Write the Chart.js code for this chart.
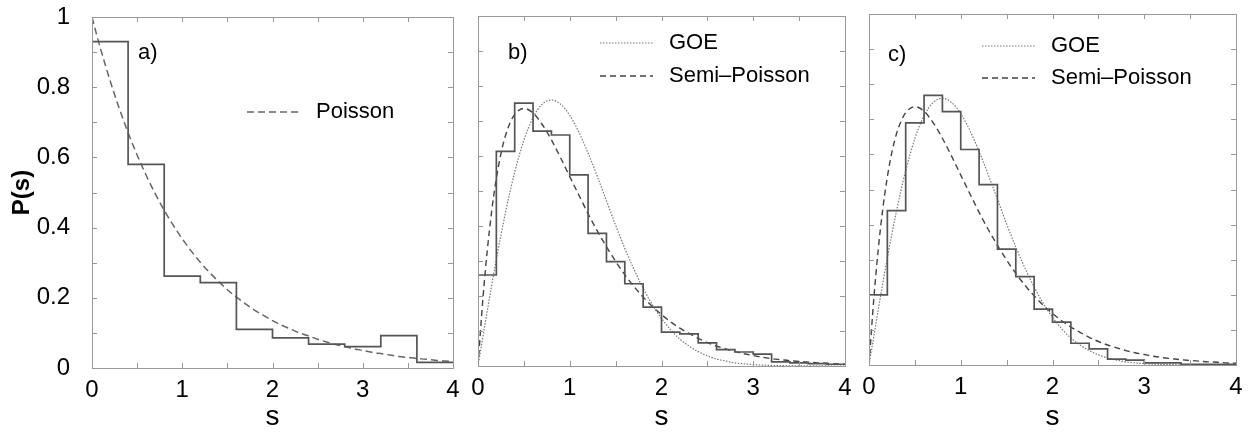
<!DOCTYPE html>
<html>
<head>
<meta charset="utf-8">
<script src="https://cdn.jsdelivr.net/npm/chart.js@4.4.1/dist/chart.umd.min.js"></script>
<style>
  html, body { margin: 0; padding: 0; background: #fff; }
  #wrap { position: relative; width: 1255px; height: 435px; }
  #wrap canvas { position: absolute; left: 0; top: 0; }
</style>
</head>
<body>
<div id="wrap">
  <canvas id="chartA" width="1255" height="435"></canvas>
  <canvas id="chartB" width="1255" height="435"></canvas>
  <canvas id="chartC" width="1255" height="435"></canvas>
</div>
<script>
// histogram bin edges
var edgesA = [0, 0.4, 0.8, 1.2, 1.6, 2.0, 2.4, 2.8, 3.2, 3.6, 4.0];
var edgesBC = [0, 0.2, 0.4, 0.6, 0.8, 1.0, 1.2, 1.4, 1.6, 1.8, 2.0, 2.2, 2.4, 2.6, 2.8, 3.0, 3.2, 3.4, 3.6, 3.8, 4.0];

// histogram heights P(s)
var histA = [0.93, 0.58, 0.262, 0.243, 0.11, 0.086, 0.068, 0.061, 0.092, 0.016];
var histB = [0.26, 0.613, 0.751, 0.671, 0.66, 0.546, 0.379, 0.298, 0.235, 0.168,
             0.097, 0.092, 0.066, 0.047, 0.04, 0.034, 0.012, 0.009, 0.007, 0.005];
var histC = [0.2, 0.44, 0.69, 0.768, 0.722, 0.614, 0.514, 0.33, 0.252, 0.159,
             0.122, 0.062, 0.046, 0.017, 0.014, 0.006, 0.006, 0.002, 0.002, 0.002];

var sCurve = [0, 0.05, 0.1, 0.15, 0.2, 0.25, 0.3, 0.35, 0.4, 0.5, 0.6, 0.7, 0.8, 0.9,
              1.0, 1.1, 1.2, 1.3, 1.4, 1.5, 1.6, 1.7, 1.8, 1.9, 2.0, 2.1, 2.2, 2.3, 2.4,
              2.5, 2.6, 2.7, 2.8, 2.9, 3.0, 3.1, 3.2, 3.3, 3.4, 3.5, 3.6, 3.7, 3.8, 3.9, 4.0];
var poisson = [1, 0.951, 0.905, 0.861, 0.819, 0.779, 0.741, 0.705, 0.670, 0.607, 0.549, 0.497,
               0.449, 0.407, 0.368, 0.333, 0.301, 0.273, 0.247, 0.223, 0.202, 0.183, 0.165,
               0.150, 0.135, 0.122, 0.111, 0.100, 0.091, 0.082, 0.074, 0.067, 0.061, 0.055,
               0.050, 0.045, 0.041, 0.037, 0.033, 0.030, 0.027, 0.025, 0.022, 0.020, 0.018];
var goe = [0, 0.078, 0.156, 0.232, 0.305, 0.374, 0.439, 0.499, 0.554, 0.645, 0.710, 0.748,
           0.760, 0.748, 0.716, 0.668, 0.608, 0.542, 0.472, 0.402, 0.336, 0.276, 0.222,
           0.175, 0.136, 0.103, 0.077, 0.057, 0.041, 0.029, 0.020, 0.014, 0.009, 0.006,
           0.004, 0.0025, 0.0016, 0.001, 0.0006, 0.0004, 0.0002, 0.0001, 0.0001, 0, 0];
var semiPoisson = [0, 0.181, 0.327, 0.444, 0.536, 0.607, 0.659, 0.695, 0.719, 0.736, 0.723,
                   0.690, 0.646, 0.595, 0.541, 0.488, 0.435, 0.386, 0.341, 0.299, 0.261,
                   0.227, 0.197, 0.170, 0.147, 0.126, 0.108, 0.093, 0.079, 0.067, 0.057,
                   0.049, 0.041, 0.035, 0.030, 0.025, 0.021, 0.018, 0.015, 0.013, 0.011,
                   0.009, 0.008, 0.006, 0.005];

// ticks
var xTicks = [0, 1, 2, 3, 4];
var yTicks = [0, 0.2, 0.4, 0.6, 0.8, 1];
var yTickLabels = ['0', '0.2', '0.4', '0.6', '0.8', '1'];
var xMarks = [0, 0.5, 1, 1.5, 2, 2.5, 3, 3.5, 4];
var yMarks = [0, 0.1, 0.2, 0.3, 0.4, 0.5, 0.6, 0.7, 0.8, 0.9, 1];

Chart.defaults.font.family = '"Liberation Sans", Arial, Helvetica, sans-serif';
Chart.defaults.color = '#000';

function stepPoints(edges, heights) {
  var pts = [];
  for (var i = 0; i < heights.length; i++) pts.push({x: edges[i], y: heights[i]});
  pts.push({x: edges[heights.length], y: heights[heights.length - 1]});
  return pts;
}

function curvePoints(ys) {
  return sCurve.map(function (s, i) { return {x: s, y: ys[i]}; });
}

// box with small inward ticks on all four sides
var framePlugin = {
  id: 'frame',
  afterDatasetsDraw: function (chart) {
    var ctx = chart.ctx, a = chart.chartArea;
    var xs = chart.scales.x, ys = chart.scales.y;
    ctx.save();
    ctx.strokeStyle = '#999';
    ctx.lineWidth = 1;
    ctx.beginPath();
    xMarks.forEach(function (v) {
      var px = Math.round(xs.getPixelForValue(v)) + 0.5;
      ctx.moveTo(px, a.bottom); ctx.lineTo(px, a.bottom - 5);
      ctx.moveTo(px, a.top); ctx.lineTo(px, a.top + 5);
    });
    yMarks.forEach(function (v) {
      var py = Math.round(ys.getPixelForValue(v)) + 0.5;
      ctx.moveTo(a.left, py); ctx.lineTo(a.left + 5, py);
      ctx.moveTo(a.right, py); ctx.lineTo(a.right - 5, py);
    });
    ctx.stroke();
    ctx.strokeRect(Math.round(a.left) + 0.5, Math.round(a.top) + 0.5,
                   Math.round(a.right - a.left), Math.round(a.bottom - a.top));
    ctx.restore();
  }
};

// panel letter and legend drawn inside the box
var keyPlugin = {
  id: 'key',
  afterDraw: function (chart, args, opts) {
    var ctx = chart.ctx, a = chart.chartArea;
    ctx.save();
    ctx.font = '22px "Liberation Sans", Arial, sans-serif';
    ctx.fillStyle = '#000';
    ctx.textBaseline = 'middle';
    ctx.fillText(opts.label, a.left + opts.labelX, a.top + opts.labelY);
    opts.items.forEach(function (it) {
      var ds = chart.data.datasets[it.ds];
      var y = a.top + it.y;
      ctx.strokeStyle = ds.borderColor;
      ctx.lineWidth = ds.borderWidth;
      ctx.setLineDash(ds.borderDash || []);
      ctx.beginPath();
      ctx.moveTo(a.left + opts.lineX, y);
      ctx.lineTo(a.left + opts.lineX + 53, y);
      ctx.stroke();
      ctx.setLineDash([]);
      ctx.fillText(it.text, a.left + opts.lineX + 69, y);
    });
    ctx.restore();
  }
};

function makeScales(showY, xHeight) {
  return {
    x: {
      type: 'linear', min: 0, max: 4,
      afterBuildTicks: function (s) { s.ticks = xTicks.map(function (v) { return {value: v}; }); },
      grid: {display: false}, border: {display: false},
      ticks: {font: {size: 24}, padding: 0, maxRotation: 0, autoSkip: false},
      title: {display: true, text: 's', font: {size: 28}, padding: {top: 0, bottom: 1}},
      afterFit: function (s) { s.height = xHeight; }
    },
    y: {
      type: 'linear', min: 0, max: 1,
      afterBuildTicks: function (s) { s.ticks = yTicks.map(function (v) { return {value: v}; }); },
      grid: {display: false}, border: {display: false},
      ticks: {
        display: showY, font: {size: 24, lineHeight: 0.2}, padding: 14,
        callback: function (v) { var i = yTicks.indexOf(v); return i >= 0 ? yTickLabels[i] : ''; }
      },
      title: {display: showY, text: 'P(s)', font: {size: 24, weight: 'bold'}, padding: {top: 8, bottom: 0}},
      afterFit: function (s) { s.width = showY ? 92 : 0; }
    }
  };
}

var histStyle = {borderColor: '#555', borderWidth: 1.7, pointRadius: 0, fill: false, stepped: 'before'};
var goeStyle = {borderColor: '#777', borderWidth: 1.2, borderDash: [1.5, 1.5], pointRadius: 0, fill: false, cubicInterpolationMode: 'monotone'};
var semiStyle = {borderColor: '#444', borderWidth: 1.4, borderDash: [6, 4], pointRadius: 0, fill: false, cubicInterpolationMode: 'monotone'};

function makeChart(id, datasets, pad, xHeight, showY, key) {
  return new Chart(document.getElementById(id), {
    type: 'line',
    data: {datasets: datasets},
    options: {
      responsive: false, animation: false,
      layout: {padding: pad},
      scales: makeScales(showY, xHeight),
      plugins: {legend: {display: false}, tooltip: {enabled: false}, key: key}
    },
    plugins: [framePlugin, keyPlugin]
  });
}

makeChart('chartA', [
  Object.assign({label: 'histogram', data: stepPoints(edgesA, histA)}, histStyle),
  {label: 'Poisson', data: curvePoints(poisson), borderColor: '#666', borderWidth: 1.5,
   borderDash: [7, 4], pointRadius: 0, fill: false, cubicInterpolationMode: 'monotone'}
], {left: 0, right: 802, top: 17, bottom: 0}, 67, true,
  {label: 'a)', labelX: 46, labelY: 36, lineX: 155, items: [{ds: 1, text: 'Poisson', y: 95}]});

makeChart('chartB', [
  Object.assign({label: 'histogram', data: stepPoints(edgesBC, histB)}, histStyle),
  Object.assign({label: 'GOE', data: curvePoints(goe)}, goeStyle),
  Object.assign({label: 'Semi–Poisson', data: curvePoints(semiPoisson)}, semiStyle)
], {left: 478, right: 410, top: 16, bottom: 0}, 69, false,
  {label: 'b)', labelX: 30, labelY: 37, lineX: 122,
   items: [{ds: 1, text: 'GOE', y: 27}, {ds: 2, text: 'Semi–Poisson', y: 60}]});

makeChart('chartC', [
  Object.assign({label: 'histogram', data: stepPoints(edgesBC, histC)}, histStyle),
  Object.assign({label: 'GOE', data: curvePoints(goe)}, goeStyle),
  Object.assign({label: 'Semi–Poisson', data: curvePoints(semiPoisson)}, semiStyle)
], {left: 869, right: 19, top: 14, bottom: 0}, 70, false,
  {label: 'c)', labelX: 19, labelY: 41, lineX: 113,
   items: [{ds: 1, text: 'GOE', y: 32}, {ds: 2, text: 'Semi–Poisson', y: 64}]});
</script>
</body>
</html>
